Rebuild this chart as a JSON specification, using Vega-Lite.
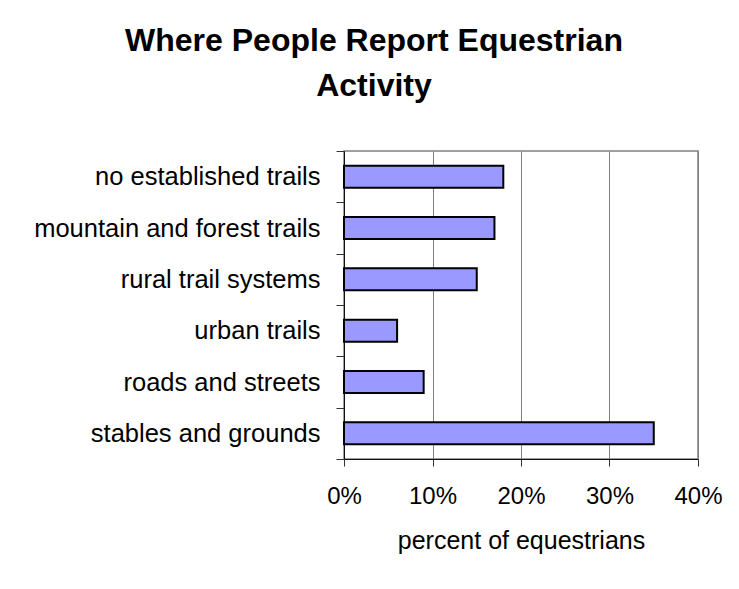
{
  "$schema": "https://vega.github.io/schema/vega-lite/v6.json",
  "width": 354,
  "height": 308,
  "autosize": {"type": "none"},
  "padding": {"left": 344, "top": 151, "right": 41, "bottom": 130},
  "background": "white",
  "title": {
    "text": ["Where People Report Equestrian", "Activity"],
    "font": "Liberation Sans",
    "fontSize": 32,
    "fontWeight": "bold",
    "color": "black",
    "anchor": "middle",
    "baseline": "bottom",
    "lineHeight": 45,
    "offset": 4,
    "dx": -147
  },
  "data": {
    "values": [
      {"place": "no established trails", "pct": 0.18},
      {"place": "mountain and forest trails", "pct": 0.17},
      {"place": "rural trail systems", "pct": 0.15},
      {"place": "urban trails", "pct": 0.06},
      {"place": "roads and streets", "pct": 0.09},
      {"place": "stables and grounds", "pct": 0.35}
    ]
  },
  "mark": {"type": "bar", "fill": "#9999FF", "stroke": "black", "strokeWidth": 2, "height": {"band": 0.43}},
  "encoding": {
    "y": {
      "field": "place",
      "type": "nominal",
      "sort": null,
      "scale": {"paddingInner": 0, "paddingOuter": 0},
      "axis": {
        "title": null,
        "tickBand": "extent",
        "tickSize": 8,
        "tickColor": "#333333",
        "domainColor": "#111111",
        "labelPadding": 16,
        "labelFont": "Liberation Sans",
        "labelFontSize": 25.5,
        "labelColor": "black",
        "labelLimit": 400,
        "grid": false
      }
    },
    "x": {
      "field": "pct",
      "type": "quantitative",
      "scale": {"domain": [0, 0.4], "nice": false},
      "axis": {
        "title": "percent of equestrians",
        "values": [0, 0.1, 0.2, 0.3, 0.4],
        "format": ".0%",
        "labelFlush": false,
        "tickSize": 7,
        "tickColor": "#333333",
        "domainColor": "#111111",
        "labelPadding": 18,
        "labelFont": "Liberation Sans",
        "labelFontSize": 24,
        "labelColor": "black",
        "titleFont": "Liberation Sans",
        "titleFontSize": 25,
        "titleFontWeight": "normal",
        "titleColor": "black",
        "titlePadding": 20,
        "grid": true,
        "gridColor": "#808080",
        "gridWidth": 1
      }
    }
  },
  "config": {
    "view": {"stroke": "#808080", "strokeWidth": 1.5}
  }
}
